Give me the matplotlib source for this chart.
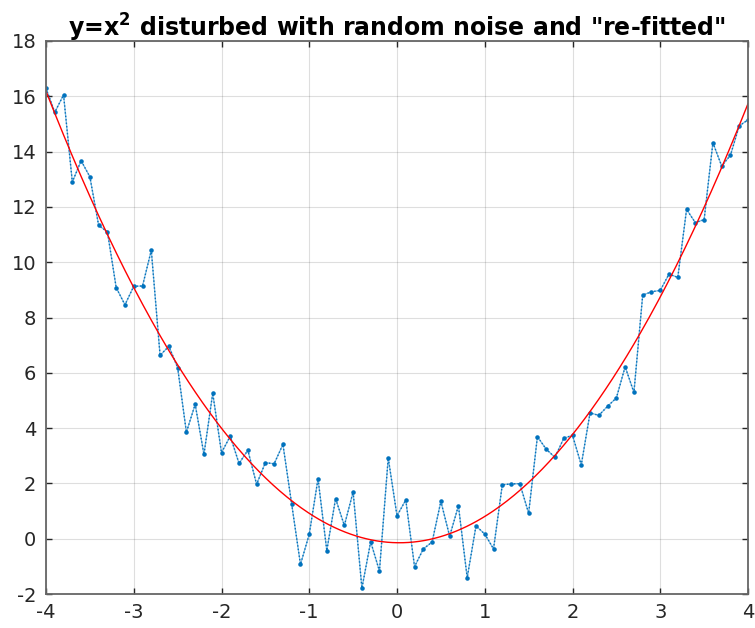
import numpy as np
import matplotlib
matplotlib.use("Agg")
import matplotlib.pyplot as plt

# noisy samples of y = x^2, x from -4 to 4 in steps of 0.1
x = np.round(np.arange(-4.0, 4.0001, 0.1), 1)
y_noisy = [
    16.29, 15.42, 16.05, 12.90, 13.67, 13.09, 11.33, 11.10, 9.08, 8.46,
    9.13, 9.14, 10.43, 6.63, 6.96, 6.19, 3.85, 4.86, 3.05, 5.26,
    3.11, 3.71, 2.72, 3.20, 1.97, 2.75, 2.71, 3.41, 1.25, -0.93,
    0.16, 2.17, -0.43, 1.45, 0.48, 1.69, -1.79, -0.11, -1.17, 2.92,
    0.83, 1.40, -1.01, -0.37, -0.12, 1.35, 0.09, 1.19, -1.41, 0.46,
    0.17, -0.37, 1.95, 1.98, 1.99, 0.92, 3.69, 3.24, 2.94, 3.63,
    3.74, 2.67, 4.55, 4.46, 4.79, 5.09, 6.22, 5.29, 8.81, 8.93,
    8.98, 9.57, 9.45, 11.91, 11.43, 11.54, 14.32, 13.48, 13.87, 14.93,
    15.15,
]
x_ticks = [-4, -3, -2, -1, 0, 1, 2, 3, 4]
y_ticks = [-2, 0, 2, 4, 6, 8, 10, 12, 14, 16, 18]

coef = np.polyfit(x, y_noisy, 2)
x_fit = np.linspace(-4, 4, 400)
y_fit = np.polyval(coef, x_fit)

plt.rcParams["font.family"] = ["DejaVu Sans"]
plt.rcParams["axes.unicode_minus"] = False

blue = "#0072BD"
fig = plt.figure(figsize=(7.55, 6.28), dpi=100)
ax = fig.add_axes([46 / 755, 1 - 594 / 628, (748 - 46) / 755, (594 - 41) / 628])

ax.plot(x, y_noisy, color=blue, lw=0.9, alpha=0.5)
ax.plot(x, y_noisy, color=blue, lw=1.0, ls=(0, (1, 1.5)), marker=".", ms=4.5)
ax.plot(x_fit, y_fit, color="red", lw=1.0)

ax.set_xlim(-4, 4)
ax.set_ylim(-2, 18)
ax.set_xticks(x_ticks)
ax.set_yticks(y_ticks)
ax.tick_params(direction="in", top=True, right=True, length=4, width=1,
               labelsize=14, colors="#262626")
ax.tick_params(axis="x", pad=6.5)
ax.tick_params(axis="y", pad=7)
ax.grid(True, color="#262626", alpha=0.15, lw=0.8)
for s in ax.spines.values():
    s.set_color("#666666")
    s.set_linewidth(1.3)

ax.set_title(r'y=x$^{\mathbf{2}}$ disturbed with random noise and "re-fitted"',
             fontsize=17, fontweight="bold", pad=3)

fig.savefig("out.png", dpi=100)
